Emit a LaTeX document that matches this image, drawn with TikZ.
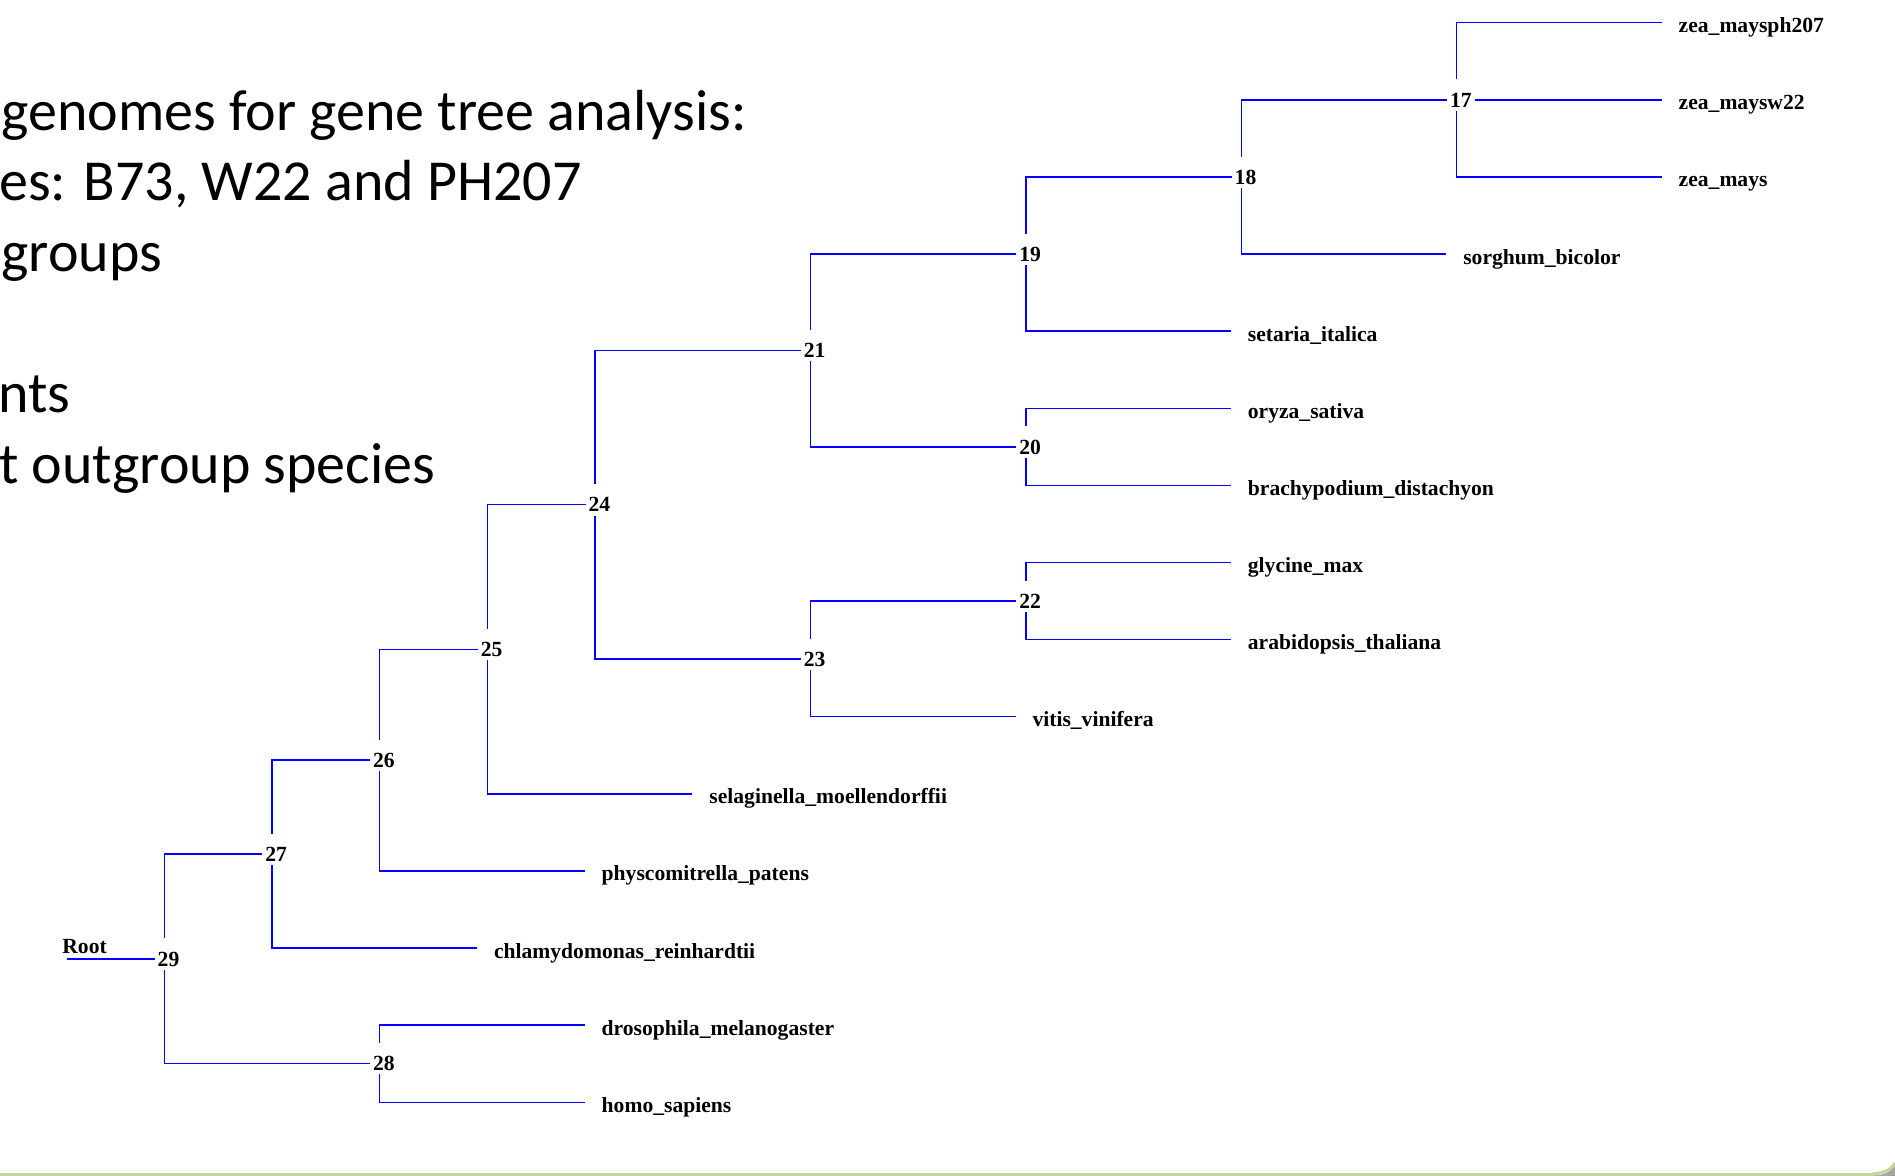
\documentclass[tikz,border=0pt]{standalone}
\usepackage{fontspec}
\setmainfont{Liberation Serif}
\newfontfamily\foliefont{Carlito}
\definecolor{astblau}{HTML}{0000FF}
\definecolor{randgruen}{HTML}{C4D79B}
\definecolor{schatten}{HTML}{A5A5A5}
\tikzset{
  zweig/.style={astblau,line width=0.7pt},
  blatt/.style={anchor=base west,inner sep=0pt,xshift=8.3pt,yshift=-5pt,font=\fontsize{10.8}{12}\selectfont\bfseries},
  knoten/.style={anchor=base west,fill=white,inner xsep=1.5pt,inner ysep=1.8pt,text height=12pt,text depth=0pt,xshift=-5pt,yshift=-3.6pt,font=\fontsize{10.8}{12}\selectfont\bfseries},
  folie/.style={anchor=base west,inner sep=0pt,font=\foliefont\fontsize{29}{35}\selectfont},
}

\begin{document}
\begin{tikzpicture}[x=0.5pt,y=-0.5pt]
  \useasboundingbox (0,0) rectangle (1895,1176);
  % slide text, cut at the left edge
  \node[folie] (z1) at (1,131) {genomes for gene tree analysis:};
  \node[folie] (z2) at (-1,201) {es: B73, W22 and PH207};
  \node[folie] (z3) at (1,272) {groups};
  \node[folie] (z4) at (-2,413) {nts};
  \node[folie] (z5) at (-1,483) {t outgroup species};
  % inner nodes of the tree
  \coordinate (n17) at (1456.7,99.9);
  \coordinate (n18) at (1241.3,177.0);
  \coordinate (n19) at (1025.9,254.1);
  \coordinate (n20) at (1025.9,446.85);
  \coordinate (n21) at (810.5,350.5);
  \coordinate (n22) at (1025.9,601.05);
  \coordinate (n23) at (810.5,658.9);
  \coordinate (n24) at (595.1,504.7);
  \coordinate (n25) at (487.4,649.25);
  \coordinate (n26) at (379.7,760.1);
  \coordinate (n27) at (272,854.05);
  \coordinate (n28) at (379.7,1063.65);
  \coordinate (n29) at (164.3,958.85);
  \coordinate (rt) at (67,958.85);
  % leaves
  \foreach \nm/\x/\y/\txt in {
      zmph/1661.7/22.8/zea\_maysph207,
      zmw/1661.7/99.9/zea\_maysw22,
      zm/1661.7/177.0/zea\_mays,
      sb/1446.3/254.1/sorghum\_bicolor,
      si/1230.9/331.2/setaria\_italica,
      os/1230.9/408.3/oryza\_sativa,
      bd/1230.9/485.4/brachypodium\_distachyon,
      gm/1230.9/562.5/glycine\_max,
      at/1230.9/639.6/arabidopsis\_thaliana,
      vv/1015.5/716.7/vitis\_vinifera,
      sm/692.4/793.8/selaginella\_moellendorffii,
      pp/584.7/870.9/physcomitrella\_patens,
      cr/477/948.0/chlamydomonas\_reinhardtii,
      dm/584.7/1025.1/drosophila\_melanogaster,
      hs/584.7/1102.2/homo\_sapiens}{
    \coordinate (\nm) at (\x,\y);
    \node[blatt] (t\nm) at (\nm) {\txt};
  }
  % branches
  \foreach \p/\c in {n17/zmph,n17/zmw,n17/zm,n18/n17,n18/sb,n19/n18,n19/si,
      n20/os,n20/bd,n21/n19,n21/n20,n22/gm,n22/at,n23/n22,n23/vv,
      n24/n21,n24/n23,n25/n24,n25/sm,n26/n25,n26/pp,n27/n26,n27/cr,
      n28/dm,n28/hs,n29/n27,n29/n28}
    \draw[zweig] (\p) |- (\c);
  \draw[zweig] (rt) -- (n29);
  \node[anchor=base west,inner sep=0pt,font=\fontsize{10.8}{12}\selectfont\bfseries] (troot) at (62,953) {Root};
  % node numbers
  \foreach \k in {17,18,19,20,21,22,23,24,25,26,27,28,29}
    \node[knoten] (k\k) at (n\k) {\k};
  % slide border at the bottom
  \fill[randgruen] (0,1172.5) rectangle (1878,1176);
  \fill[schatten] (1872,1176) .. controls (1884,1175) and (1892,1172) .. (1895,1164) -- (1895,1176) -- cycle;
  \draw[randgruen,line width=1.5pt] (1872,1174) .. controls (1884,1173) and (1891,1170) .. (1895,1163);
\end{tikzpicture}
\end{document}
